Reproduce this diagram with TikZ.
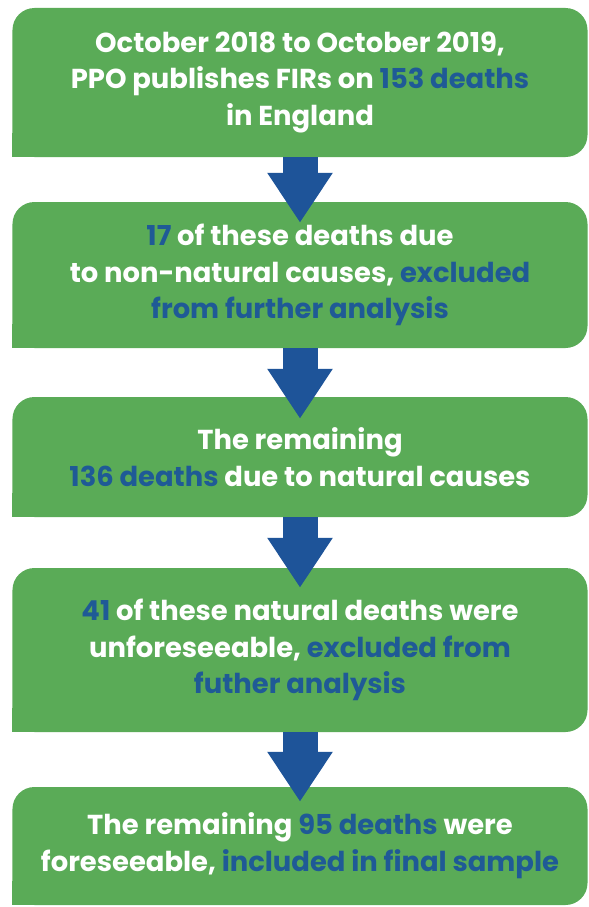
\documentclass[tikz,border=0pt]{standalone}
\usepackage{fontspec}
\setmainfont{Poppins}
\usetikzlibrary{arrows.meta}
\definecolor{boxgreen}{HTML}{5AAB57}
\definecolor{hl}{HTML}{1F5A96}
\definecolor{arrowblue}{HTML}{1E5499}
\newcommand{\hlt}[1]{\textcolor{hl}{#1}}
\begin{document}
\begin{tikzpicture}[x=1bp,y=-1bp,
  flowbox/.style={fill=boxgreen, rounded corners=22bp, minimum width=575bp, inner sep=0pt,
    text=white, align=center, font=\fontsize{27.5}{37}\selectfont\bfseries},
  flowarrow/.style={arrowblue, line width=35bp, -{Triangle[width=62bp,length=50bp]}},
  sqcorner/.style={fill=boxgreen}]
\useasboundingbox (0,0) rectangle (589,907);
\fill[white] (0,0) rectangle (589,907);
\node[flowbox, minimum height=149bp] (b1) at (300,82.5)
  {October 2018 to October 2019,\\PPO publishes FIRs on \hlt{153 deaths}\\in England};
\node[flowbox, minimum height=146bp] (b2) at (300,275)
  {\hlt{17} of these deaths due\\to non-natural causes, \hlt{excluded}\\\hlt{from further analysis}};
\node[flowbox, minimum height=120bp] (b3) at (300,457)
  {The remaining\\\hlt{136 deaths} due to natural causes};
\node[flowbox, minimum height=164bp] (b4) at (300,650)
  {\hlt{41} of these natural deaths were\\unforeseeable, \hlt{excluded from}\\\hlt{futher analysis}};
\node[flowbox, minimum height=118bp] (b5) at (300,846)
  {The remaining \hlt{95 deaths} were\\foreseeable, \hlt{included in final sample}};
\foreach \b in {b1,b2,b3,b4,b5}
  \fill[sqcorner] (\b.south west) rectangle ++(24,-24);
\draw[flowarrow] (b1.south) -- ([yshift=-21bp]b2.north);
\draw[flowarrow] (b2.south) -- ([yshift=-22bp]b3.north);
\draw[flowarrow] (b3.south) -- ([yshift=-20bp]b4.north);
\draw[flowarrow] (b4.south) -- ([yshift=-15bp]b5.north);
\end{tikzpicture}
\end{document}
